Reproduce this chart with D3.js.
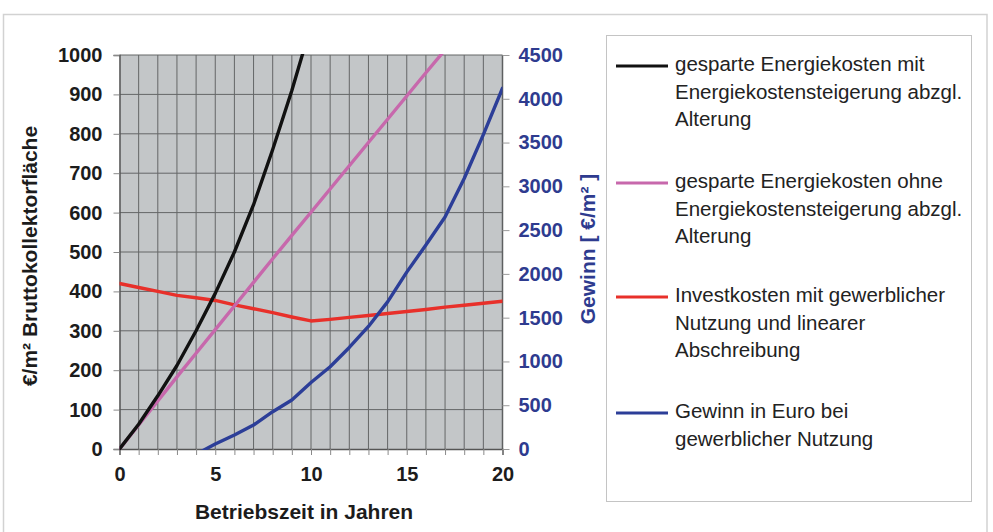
<!DOCTYPE html>
<html>
<head>
<meta charset="utf-8">
<script src="https://cdn.jsdelivr.net/npm/d3@7"></script>
<style>
  html, body { margin: 0; padding: 0; background: #fff; }
  svg { display: block; font-family: "Liberation Sans", Arial, sans-serif; }
</style>
</head>
<body>
<svg id="chart" width="993" height="532"></svg>
<script>
// Betriebszeit (Jahre) and the four series
const yearTicks = [0, 5, 10, 15, 20];
const leftTicks = [0, 100, 200, 300, 400, 500, 600, 700, 800, 900, 1000];
const rightTicks = [0, 500, 1000, 1500, 2000, 2500, 3000, 3500, 4000, 4500];

// gesparte Energiekosten mit Energiekostensteigerung (€/m², left axis)
const savedWithIncreaseYears = [0, 1, 2, 3, 4, 5, 6, 7, 8, 9, 10];
const savedWithIncrease = [0, 63, 135, 212, 300, 395, 500, 620, 760, 910, 1075];

// gesparte Energiekosten ohne Energiekostensteigerung (€/m², left axis)
const savedFlatYears = [0, 1, 2, 3, 4, 5, 6, 7, 8, 9, 10, 11, 12, 13, 14, 15, 16, 17];
const savedFlat = [0, 61, 122, 183, 243, 303, 363, 423, 483, 542, 601, 660, 719, 778, 837, 896, 955, 1013];

// Investkosten (€/m², left axis)
const investYears = [0, 1, 2, 3, 4, 5, 6, 7, 8, 9, 10, 11, 12, 13, 14, 15, 16, 17, 18, 19, 20];
const invest = [420, 410, 400, 390, 384, 377, 366, 356, 346, 335, 325, 329, 334, 339, 344, 349, 354, 360, 365, 370, 375];

// Gewinn (€/m², right axis)
const gainYears = [4, 5, 6, 7, 8, 9, 10, 11, 12, 13, 14, 15, 16, 17, 18, 19, 20];
const gain = [-60, 57, 160, 274, 426, 560, 760, 940, 1160, 1400, 1680, 2020, 2330, 2650, 3090, 3590, 4120];

const legendItems = [
  { color: "#111111", lines: ["gesparte Energiekosten mit", "Energiekostensteigerung abzgl.", "Alterung"] },
  { color: "#c768ac", lines: ["gesparte Energiekosten ohne", "Energiekostensteigerung abzgl.", "Alterung"] },
  { color: "#e8302a", lines: ["Investkosten mit gewerblicher", "Nutzung und linearer", "Abschreibung"] },
  { color: "#2c3e98", lines: ["Gewinn in Euro bei", "gewerblicher Nutzung"] }
];

const svg = d3.select("#chart");
const plot = { left: 119.5, top: 55, right: 502.5, bottom: 449 };

const x = d3.scaleLinear().domain([0, 20]).range([plot.left, plot.right]);
const yL = d3.scaleLinear().domain([0, 1000]).range([plot.bottom, plot.top]);
const yR = d3.scaleLinear().domain([0, 4500]).range([plot.bottom, plot.top]);
const plain = d3.format("d");

// outer frame
svg.append("rect")
  .attr("x", 3.5).attr("y", 14.5).attr("width", 983.5).attr("height", 540)
  .attr("fill", "none").attr("stroke", "#d2d2d2").attr("stroke-width", 1.5);

// plot background
svg.append("rect")
  .attr("x", plot.left).attr("y", plot.top)
  .attr("width", plot.right - plot.left).attr("height", plot.bottom - plot.top)
  .attr("fill", "#c3c6c8");

// gridlines
const grid = svg.append("g").attr("stroke", "#646667").attr("stroke-width", 1);
grid.selectAll("line.v").data(d3.range(1, 20)).join("line")
  .attr("x1", d => x(d)).attr("x2", d => x(d))
  .attr("y1", plot.top).attr("y2", plot.bottom);
grid.selectAll("line.h").data(leftTicks.slice(1)).join("line")
  .attr("x1", plot.left).attr("x2", plot.right)
  .attr("y1", d => yL(d)).attr("y2", d => yL(d));

// plot border (right side)
svg.append("line")
  .attr("x1", plot.right).attr("x2", plot.right)
  .attr("y1", plot.top).attr("y2", plot.bottom)
  .attr("stroke", "#5e6061").attr("stroke-width", 1.5);

// axes
const xAxis = d3.axisBottom(x).tickValues(d3.range(0, 21)).tickSize(6)
  .tickFormat(d => yearTicks.includes(d) ? plain(d) : "");
const gx = svg.append("g").attr("transform", `translate(0,${plot.bottom})`).call(xAxis);
gx.select(".domain").attr("stroke", "#555").attr("stroke-width", 1.5);
gx.selectAll(".tick line").attr("stroke", "#8a8a8a");
gx.selectAll(".tick text")
  .attr("font-size", 20).attr("font-weight", "bold").attr("fill", "#1c1c1c")
  .attr("y", 18);

const yAxisL = d3.axisLeft(yL).tickValues(leftTicks).tickFormat(plain).tickSize(6).tickPadding(11);
const gyl = svg.append("g").attr("transform", `translate(${plot.left},0)`).call(yAxisL);
gyl.select(".domain").attr("stroke", "#555").attr("stroke-width", 1.5);
gyl.selectAll(".tick line").attr("stroke", "#8a8a8a");
gyl.selectAll(".tick text")
  .attr("font-size", 20).attr("font-weight", "bold").attr("fill", "#1c1c1c");

const yAxisR = d3.axisRight(yR).tickValues(rightTicks).tickFormat(plain).tickSize(7).tickPadding(9);
const gyr = svg.append("g").attr("transform", `translate(${plot.right},0)`).call(yAxisR);
gyr.select(".domain").remove();
gyr.selectAll(".tick line").attr("stroke", "#9a9a9a");
gyr.selectAll(".tick text")
  .attr("font-size", 20).attr("font-weight", "bold").attr("fill", "#2e3b8f");

// axis titles
svg.append("text")
  .attr("x", (plot.left + plot.right) / 2 - 7).attr("y", 519)
  .attr("text-anchor", "middle").attr("font-size", 21).attr("font-weight", "bold")
  .attr("fill", "#1c1c1c").text("Betriebszeit in Jahren");

svg.append("text")
  .attr("transform", "translate(37,256) rotate(-90)")
  .attr("text-anchor", "middle").attr("font-size", 21).attr("font-weight", "bold")
  .attr("fill", "#1c1c1c").text("€/m² Bruttokollektorfläche");

svg.append("text")
  .attr("transform", "translate(595,249) rotate(-90)")
  .attr("text-anchor", "middle").attr("font-size", 21).attr("font-weight", "bold")
  .attr("fill", "#2e3b8f").text("Gewinn [ €/m² ]");

// series lines, clipped to the plot area
svg.append("clipPath").attr("id", "plotClip")
  .append("rect")
  .attr("x", plot.left).attr("y", plot.top - 1)
  .attr("width", plot.right - plot.left).attr("height", plot.bottom - plot.top + 2);

const lines = svg.append("g").attr("clip-path", "url(#plotClip)")
  .attr("fill", "none").attr("stroke-width", 3.4)
  .attr("stroke-linejoin", "round").attr("stroke-linecap", "round");

const lineL = d3.line().x(d => x(d[0])).y(d => yL(d[1]));
const lineR = d3.line().x(d => x(d[0])).y(d => yR(d[1]));

lines.append("path").attr("stroke", legendItems[2].color)
  .attr("d", lineL(d3.zip(investYears, invest)));
lines.append("path").attr("stroke", legendItems[3].color)
  .attr("d", lineR(d3.zip(gainYears, gain)));
lines.append("path").attr("stroke", legendItems[1].color)
  .attr("d", lineL(d3.zip(savedFlatYears, savedFlat)));
lines.append("path").attr("stroke", legendItems[0].color)
  .attr("d", lineL(d3.zip(savedWithIncreaseYears, savedWithIncrease)));

// legend
svg.append("rect")
  .attr("x", 606.5).attr("y", 35.5).attr("width", 365).attr("height", 466)
  .attr("fill", "#fff").attr("stroke", "#c4c4c4").attr("stroke-width", 1);

const legendY = [66, 183, 297, 413];
const lineGap = 27.5;
const lg = svg.append("g");
legendItems.forEach((item, i) => {
  const y0 = legendY[i];
  lg.append("line")
    .attr("x1", 616).attr("x2", 668).attr("y1", y0).attr("y2", y0)
    .attr("stroke", item.color).attr("stroke-width", 3.2);
  const t = lg.append("text")
    .attr("x", 675).attr("y", y0 + 5)
    .attr("font-size", 20.5).attr("fill", "#222");
  item.lines.forEach((s, j) => {
    t.append("tspan").attr("x", 675).attr("y", y0 + 5 + j * lineGap).text(s);
  });
});
</script>
</body>
</html>
